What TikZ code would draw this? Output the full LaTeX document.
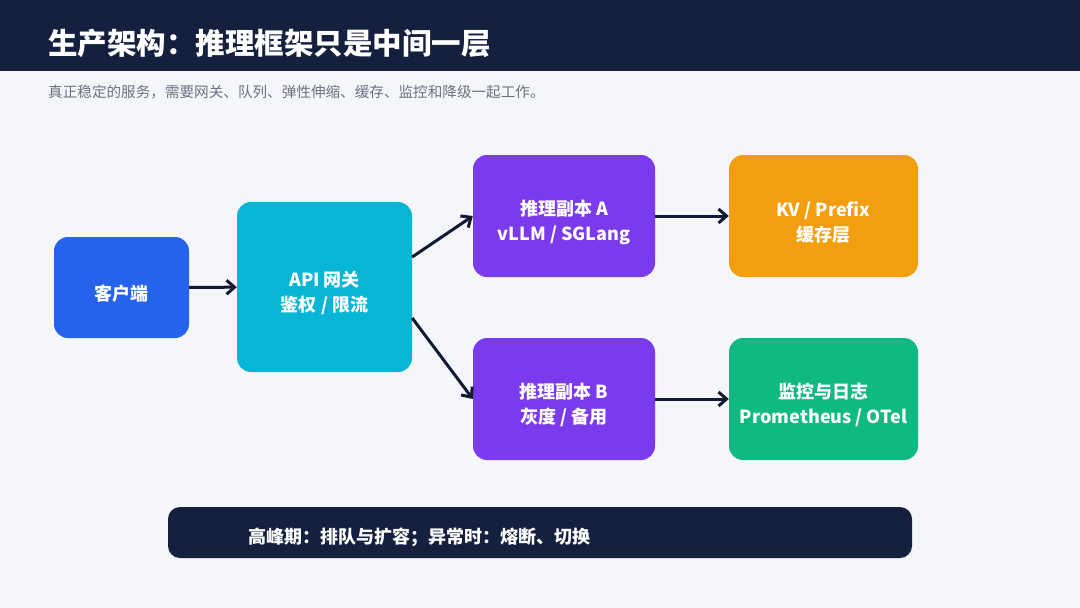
\documentclass[tikz,border=0pt]{standalone}
\usepackage{fontspec}
\setmainfont{Noto Sans CJK SC}
\usepackage{tikz}
\usetikzlibrary{arrows.meta}

\definecolor{navy}{HTML}{15203F}
\definecolor{pagebg}{HTML}{F4F6FA}
\definecolor{subgray}{HTML}{6B7280}
\definecolor{clientblue}{HTML}{2563EB}
\definecolor{gatecyan}{HTML}{06B6D4}
\definecolor{replpurple}{HTML}{7C3AED}
\definecolor{cacheorange}{HTML}{F29E0E}
\definecolor{mongreen}{HTML}{10B981}
\definecolor{arrowink}{HTML}{111A33}

\begin{document}
\begin{tikzpicture}[x=1pt, y=-1pt,
  box/.style={rectangle, rounded corners=14pt, text=white, align=center, inner sep=0pt,
    font=\fontsize{18pt}{25pt}\selectfont\bfseries,
    execute at begin node={\rule{0pt}{#1}}},
  box/.default=53pt,
  flow/.style={-{Straight Barb[length=8pt, width=14pt]}, line width=3pt, color=arrowink}]
% Page and header
\fill[pagebg] (0,0) rectangle (1080,608);
\fill[navy] (0,0) rectangle (1080,71);
\node[anchor=west, inner sep=0pt, text=white, font=\fontsize{29.5pt}{34pt}\selectfont\bfseries] (title) at (48,43) {生产架构：推理框架只是中间一层};
\node[anchor=west, inner sep=0pt, text=subgray, font=\fontsize{14.6pt}{18pt}\selectfont] (subtitle) at (48,92) {真正稳定的服务，需要网关、队列、弹性伸缩、缓存、监控和降级一起工作。};

% Entry
\node[box=28pt, fill=clientblue, minimum width=135pt, minimum height=101pt] (client) at (121.5,287.5) {客户端};
\node[box, fill=gatecyan, minimum width=175pt, minimum height=170pt] (gateway) at (324.5,287) {API 网关\\鉴权 / 限流};

% Replicas
\node[box, fill=replpurple, minimum width=182pt, minimum height=122pt] (replA) at (564,216) {推理副本 A\\vLLM / SGLang};
\node[box, fill=replpurple, minimum width=182pt, minimum height=122pt] (replB) at (564,399) {推理副本 B\\灰度 / 备用};

% Support
\node[box, fill=cacheorange, minimum width=189pt, minimum height=122pt] (cache) at (823.5,216) {KV / Prefix\\缓存层};
\node[box, fill=mongreen, minimum width=189pt, minimum height=122pt] (monitor) at (823.5,399) {监控与日志\\Prometheus / OTel};

% Arrows
\draw[flow] (client) -- (gateway);
\draw[flow] ([yshift=30pt]gateway.east) -- (replA.west);
\draw[flow] ([yshift=-31pt]gateway.east) -- (replB.west);
\draw[flow] (replA) -- (cache);
\draw[flow] (replB) -- (monitor);

% Banner
\node[rectangle, rounded corners=12pt, fill=navy, minimum width=744pt, minimum height=51pt] (banner) at (540,532.5) {};
\node[anchor=west, inner sep=0pt, text=white, font=\fontsize{18pt}{22pt}\selectfont\bfseries] (bannertext) at (248,537) {高峰期：排队与扩容；异常时：熔断、切换};
\end{tikzpicture}
\end{document}
